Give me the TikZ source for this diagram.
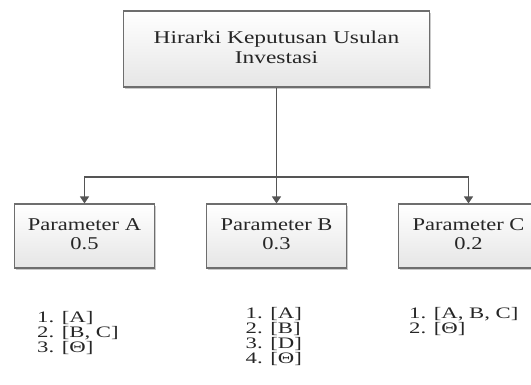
\documentclass[tikz,border=0pt]{standalone}
\usepackage{fontspec}
\setmainfont{Liberation Serif}
\usetikzlibrary{arrows.meta,shadows}
\definecolor{linec}{HTML}{555555}
\definecolor{borderc}{HTML}{6E6E6E}
\definecolor{txtc}{HTML}{262626}
\newcommand{\ltxt}[1]{\scalebox{1.42}[1]{#1}}
\begin{document}
\begin{tikzpicture}[x=1pt,y=-1pt,
  boxstyle/.style={draw=borderc, line width=1.1pt, top color=white, bottom color=black!10,
    drop shadow={shadow xshift=1.6pt, shadow yshift=-1.6pt, opacity=0.35, fill=black!60},
    inner sep=0pt, text=txtc, font=\fontsize{18}{21}\selectfont},
  listline/.style={anchor=base west, inner sep=0pt, text=txtc, font=\fontsize{16}{18}\selectfont},
  conn/.style={draw=linec, line width=1.4pt},
  arr/.style={conn, -{Triangle[width=9pt,length=7pt]}}]
\useasboundingbox (0,0) rectangle (531,385);
\node[boxstyle, minimum width=306pt, minimum height=76pt] (top) at (276.5,49)
  {\scalebox{1.3}[1]{\begin{tabular}{@{}c@{}}Hirarki Keputusan Usulan\\[-1pt]Investasi\end{tabular}}};
\node[boxstyle, minimum width=140pt, minimum height=64pt] (pa) at (84.5,236)
  {\scalebox{1.25}[1]{\begin{tabular}{@{}c@{}}Parameter A\\[-2pt]0.5\end{tabular}}};
\node[boxstyle, minimum width=140pt, minimum height=64pt] (pb) at (276.5,236)
  {\scalebox{1.25}[1]{\begin{tabular}{@{}c@{}}Parameter B\\[-2pt]0.3\end{tabular}}};
\node[boxstyle, minimum width=140pt, minimum height=64pt] (pc) at (468.5,236)
  {\scalebox{1.25}[1]{\begin{tabular}{@{}c@{}}Parameter C\\[-2pt]0.2\end{tabular}}};
\coordinate (j) at (276.5,177);
\draw[conn, line width=1.8pt] (top.south) -- (j);
\draw[arr] (j) -- (pb.north);
\draw[arr] (j) -| (pa.north);
\draw[arr] (j) -| (pc.north);
\node[listline] (a1) at (37,322.5) {\ltxt{1. [A]}};
\node[listline] (a2) at (37,337.5) {\ltxt{2. [B, C]}};
\node[listline] (a3) at (37,352.5) {\ltxt{3. [Θ]}};
\node[listline] (b1) at (245.5,318.5) {\ltxt{1. [A]}};
\node[listline] (b2) at (245.5,333.5) {\ltxt{2. [B]}};
\node[listline] (b3) at (245.5,348.5) {\ltxt{3. [D]}};
\node[listline] (b4) at (245.5,363.5) {\ltxt{4. [Θ]}};
\node[listline] (c1) at (409,318.5) {\ltxt{1. [A, B, C]}};
\node[listline] (c2) at (409,333.5) {\ltxt{2. [Θ]}};
\end{tikzpicture}
\end{document}
